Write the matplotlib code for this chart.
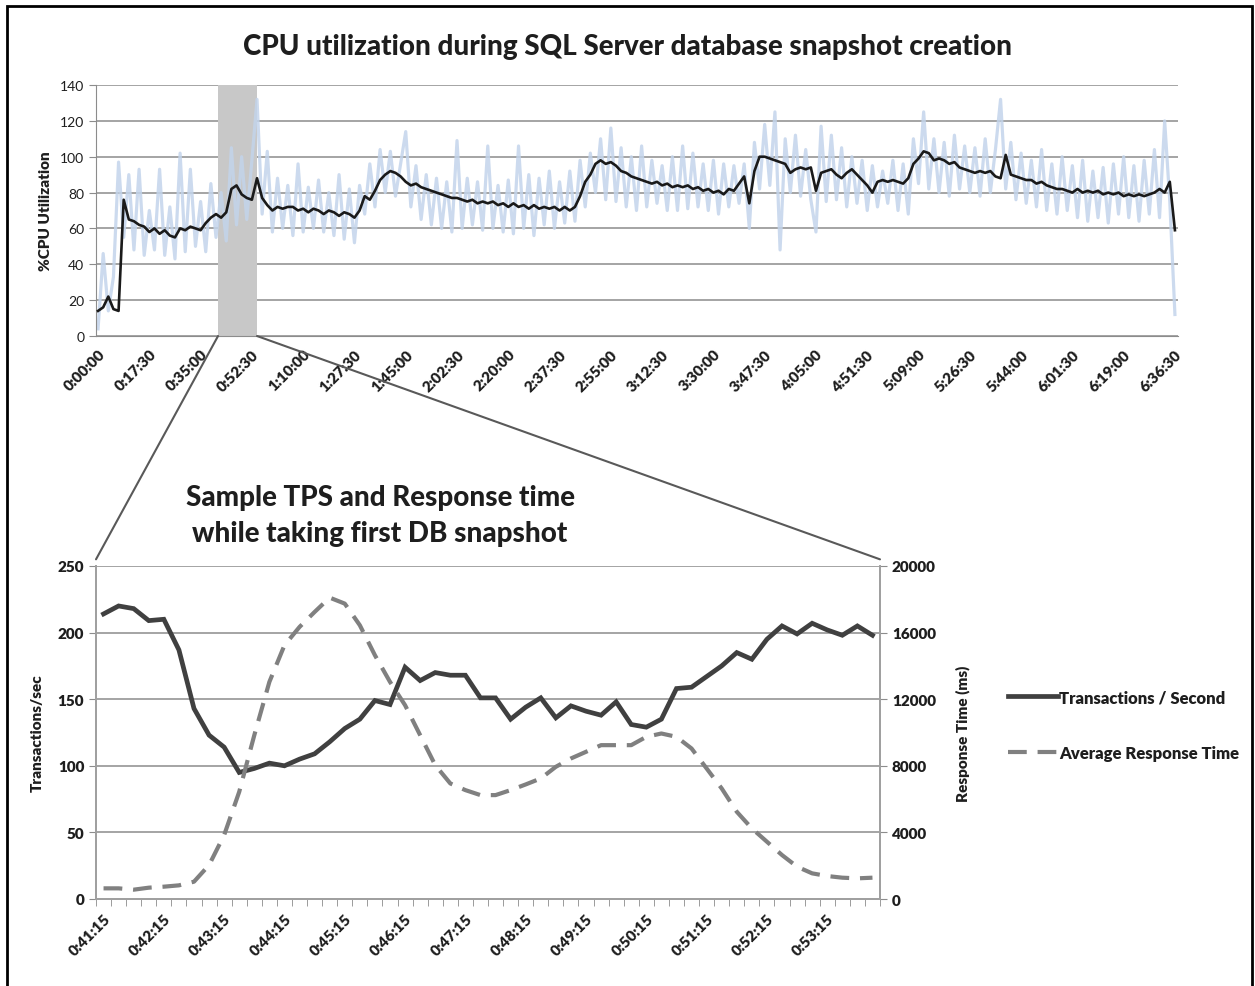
import numpy as np
import matplotlib
matplotlib.use("Agg")
import matplotlib.pyplot as plt
from matplotlib.patches import ConnectionPatch, Rectangle

plt.rcParams['font.family'] = ['Lato', 'DejaVu Sans']

# ---- top chart data (one sample per category step) ----
cpu_ticks = ['0:00:00', '0:17:30', '0:35:00', '0:52:30', '1:10:00', '1:27:30', '1:45:00',
             '2:02:30', '2:20:00', '2:37:30', '2:55:00', '3:12:30', '3:30:00', '3:47:30',
             '4:05:00', '4:51:30', '5:09:00', '5:26:30', '5:44:00', '6:01:30', '6:19:00',
             '6:36:30']

cpu_raw = [4, 46, 14, 33, 97, 55, 90, 48, 93, 45,
           70, 48, 93, 45, 72, 43, 102, 47, 93, 50,
           75, 47, 85, 55, 80, 53, 105, 62, 100, 65,
           98, 132, 68, 103, 58, 88, 60, 84, 56, 96,
           58, 83, 60, 87, 58, 80, 56, 90, 54, 82,
           52, 84, 68, 96, 72, 104, 80, 103, 78, 96,
           114, 72, 95, 65, 90, 62, 88, 60, 86, 58,
           109, 60, 88, 62, 86, 59, 106, 60, 84, 58,
           87, 57, 106, 60, 90, 56, 88, 62, 92, 60,
           86, 63, 92, 64, 98, 72, 102, 80, 110, 76,
           116, 75, 105, 72, 100, 70, 106, 72, 98, 74,
           95, 70, 100, 70, 106, 71, 102, 72, 96, 70,
           98, 68, 96, 72, 95, 74, 96, 60, 108, 82,
           118, 84, 125, 48, 110, 80, 112, 78, 104, 76,
           58, 117, 75, 112, 76, 105, 72, 100, 74, 98,
           70, 95, 72, 92, 74, 98, 70, 96, 68, 110,
           85, 125, 82, 110, 80, 108, 78, 112, 82, 106,
           80, 105, 78, 110, 80, 104, 132, 82, 108, 76,
           102, 74, 98, 72, 104, 70, 96, 68, 100, 70,
           95, 66, 98, 64, 92, 66, 94, 63, 96, 68,
           100, 66, 95, 64, 98, 68, 104, 66, 120, 75,
           12]

cpu_avg = [14, 16, 22, 15, 14, 76, 65, 64, 62, 61,
           58, 60, 57, 59, 56, 55, 60, 59, 61, 60,
           59, 63, 66, 68, 66, 69, 82, 84, 79, 77,
           76, 88, 77, 73, 70, 72, 71, 72, 72, 70,
           71, 69, 71, 70, 68, 70, 69, 67, 69, 68,
           66, 70, 78, 76, 81, 87, 90, 92, 91, 89,
           86, 84, 85, 83, 82, 81, 80, 79, 78, 77,
           77, 76, 75, 76, 74, 75, 74, 75, 73, 74,
           72, 74, 72, 73, 71, 73, 71, 72, 71, 72,
           70, 72, 70, 72, 78, 86, 90, 96, 98, 96,
           97, 95, 92, 91, 89, 88, 87, 86, 85, 86,
           84, 85, 83, 84, 83, 84, 82, 83, 81, 82,
           80, 81, 79, 82, 81, 85, 89, 74, 92, 100,
           100, 99, 98, 97, 96, 91, 93, 94, 93, 94,
           81, 91, 92, 93, 90, 88, 91, 93, 90, 87,
           84, 80, 86, 87, 86, 87, 86, 85, 88, 96,
           99, 103, 102, 98, 99, 98, 96, 97, 94, 93,
           92, 91, 92, 91, 92, 89, 88, 101, 90, 89,
           88, 87, 87, 85, 86, 84, 83, 82, 82, 81,
           80, 82, 80, 81, 80, 81, 79, 80, 79, 80,
           78, 79, 78, 79, 78, 79, 80, 82, 80, 86,
           59]

snap_start, snap_end = 23.4, 31.0

# ---- bottom chart data (15 s samples, 0:41:15 .. 0:54:00) ----
tps_ticks = ['0:41:15', '0:42:15', '0:43:15', '0:44:15', '0:45:15', '0:46:15', '0:47:15',
             '0:48:15', '0:49:15', '0:50:15', '0:51:15', '0:52:15', '0:53:15']

tps = [214, 220, 218, 209, 210, 187, 143, 123, 114, 95,
       98, 102, 100, 105, 109, 118, 128, 135, 149, 146,
       174, 164, 170, 168, 168, 151, 151, 135, 144, 151,
       136, 145, 141, 138, 148, 131, 129, 135, 158, 159,
       167, 175, 185, 180, 195, 205, 199, 207, 202, 198,
       205, 198]

resp = [640, 640, 560, 680, 740, 820, 1040, 2040, 3840, 6440,
        9840, 13040, 15240, 16340, 17240, 18100, 17740, 16440, 14640, 13040,
        11640, 9840, 8040, 6940, 6540, 6240, 6240, 6540, 6880, 7240,
        7940, 8440, 8840, 9240, 9240, 9240, 9740, 9940, 9740, 9040,
        7840, 6640, 5240, 4240, 3440, 2640, 1940, 1540, 1380, 1280,
        1240, 1280]

grid_c = '#8c8c8c'
txt_c = '#1e1e1e'
bold = 'heavy'

fig = plt.figure(figsize=(12.55, 9.87), dpi=100)

# frame around the whole picture
fig.add_artist(Rectangle((7 / 1255, -0.01), 1245 / 1255, 1 - 7 / 987 + 0.01,
                         transform=fig.transFigure, fill=False, ec='black', lw=2))

fig.text(0.5, 0.952, 'CPU utilization during SQL Server database snapshot creation',
         ha='center', va='center', fontsize=20, fontweight='black', color=txt_c)

# ---- top chart ----
ax1 = fig.add_axes([96 / 1255, 1 - 337 / 987, 1082 / 1255, 251 / 987])
x1 = np.arange(len(cpu_avg))
ax1.axvspan(snap_start, snap_end, color='#c8c8c8', zorder=1, lw=0)
ax1.plot(x1, cpu_raw, color='#c3d4eb', lw=2.3, alpha=0.85, zorder=2)
ax1.plot(x1, cpu_avg, color='#1a1a1a', lw=1.9, zorder=3)
ax1.set_xlim(-0.4, len(cpu_avg) - 0.4)
ax1.set_ylim(0, 140)
ax1.set_yticks(range(0, 141, 20))
ax1.grid(axis='y', color=grid_c, lw=1.1)
ax1.set_axisbelow(True)
ax1.set_xticks(np.arange(0, len(cpu_avg), 10))
ax1.set_xticklabels(cpu_ticks, rotation=45, ha='right', rotation_mode='anchor',
                    fontsize=11, fontweight=bold, color=txt_c)
ax1.tick_params(axis='x', length=0, pad=8)
ax1.tick_params(axis='y', length=5, color=grid_c, labelsize=10, labelcolor=txt_c)
for s in ['top', 'right']:
    ax1.spines[s].set_visible(False)
ax1.spines['left'].set_color(grid_c)
ax1.spines['bottom'].set_color(grid_c)
ax1.set_ylabel('%CPU Utilization', fontsize=11, fontweight=bold, color=txt_c, labelpad=6)

# ---- bottom chart ----
ax2 = fig.add_axes([96 / 1255, 1 - 900 / 987, 784 / 1255, 333 / 987])
ax3 = ax2.twinx()
x2 = np.arange(len(tps))
l1, = ax2.plot(x2, tps, color='#404040', lw=3.4, zorder=3, solid_joinstyle='miter')
l2, = ax3.plot(x2, resp, color='#808080', lw=3.0, dashes=(4.5, 2.6), zorder=3)
ax2.set_xlim(-0.5, len(tps) - 0.5)
ax2.set_ylim(0, 250)
ax3.set_ylim(0, 20000)
ax2.set_yticks(range(0, 251, 50))
ax3.set_yticks(range(0, 20001, 4000))
ax2.grid(axis='y', color=grid_c, lw=1.1)
ax2.set_axisbelow(True)
ax2.set_xticks(np.arange(0, len(tps), 4))
ax2.set_xticklabels(tps_ticks, rotation=45, ha='right', rotation_mode='anchor',
                    fontsize=11, fontweight=bold, color=txt_c)
ax2.set_xticks(np.arange(-0.5, len(tps), 1), minor=True)
ax2.tick_params(axis='x', which='major', length=0, pad=9)
ax2.tick_params(axis='x', which='minor', length=5, color=grid_c)
ax2.tick_params(axis='y', length=5, color=grid_c, labelsize=11, labelcolor=txt_c)
ax3.tick_params(axis='y', length=5, color=grid_c, labelsize=11, labelcolor=txt_c)
for a in (ax2, ax3):
    a.spines['top'].set_visible(False)
    for s in ['left', 'right', 'bottom']:
        a.spines[s].set_color('#a0a0a0')
        a.spines[s].set_linewidth(1.3)
for lab in ax2.get_yticklabels() + ax3.get_yticklabels():
    lab.set_fontweight(bold)
ax2.set_ylabel('Transactions/sec', fontsize=11, fontweight=bold, color=txt_c, labelpad=10)
ax3.set_ylabel('Response Time (ms)', fontsize=11, fontweight=bold, color=txt_c, labelpad=14)

fig.text(380 / 1255, 1 - 516 / 987, 'Sample TPS and Response time\nwhile taking first DB snapshot',
         ha='center', va='center', fontsize=20, fontweight='black', color=txt_c, linespacing=1.5)

fig.legend([l1, l2], ['Transactions / Second', 'Average Response Time'],
           loc='center left', bbox_to_anchor=(993 / 1255, 1 - 726 / 987),
           frameon=False, handlelength=3.0, handletextpad=0.05, labelspacing=2.4,
           prop={'size': 12, 'weight': bold}, labelcolor=txt_c)

# zoom connector lines from the shaded block to the bottom chart
for xa, xb in ((snap_start, 0.0), (snap_end, 1.0)):
    con = ConnectionPatch(xyA=(xa, 0), coordsA=ax1.transData,
                          xyB=(xb, 1.02), coordsB=ax2.transAxes,
                          color='#595959', lw=1.5)
    fig.add_artist(con)

fig.savefig('out.png', dpi=100)
